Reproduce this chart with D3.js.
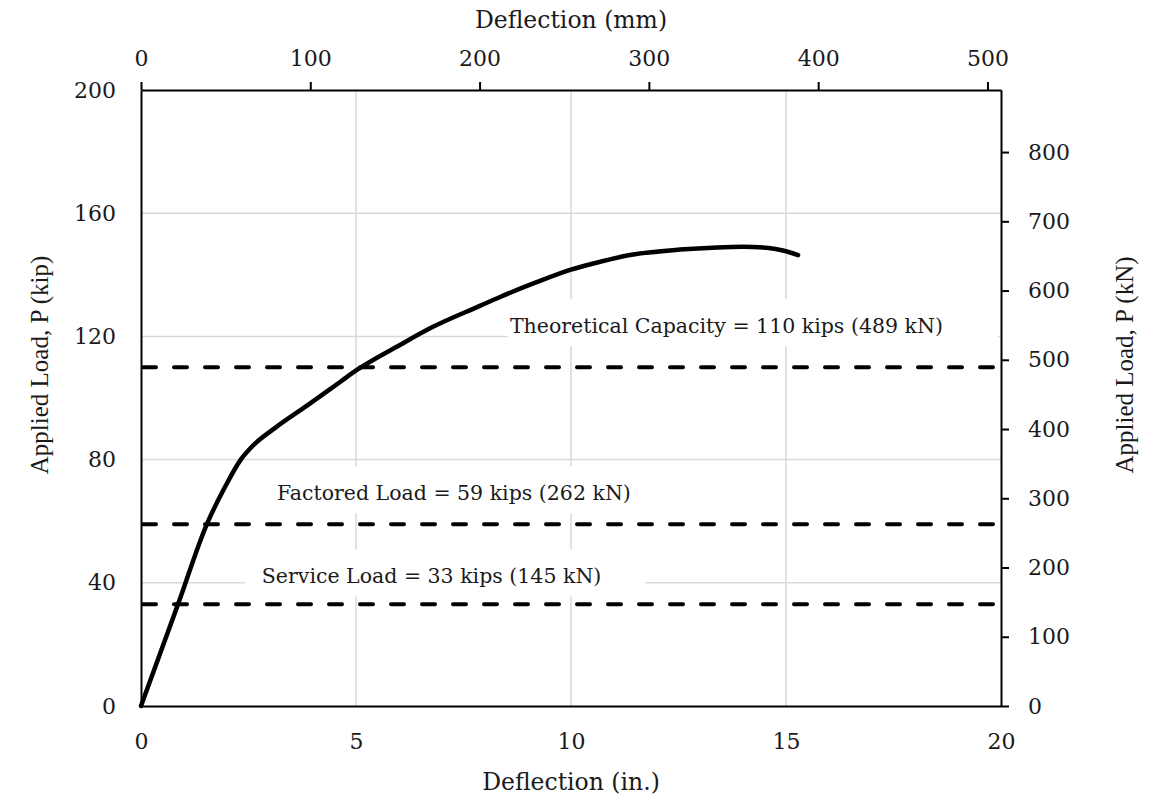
<!DOCTYPE html>
<html>
<head>
<meta charset="utf-8">
<script src="https://cdn.jsdelivr.net/npm/d3@7"></script>
<style>
  body { margin: 0; background: #fff; }
  svg { display: block; }
</style>
</head>
<body>
<script>
'use strict';

// Load-deflection curve
const deflIn = [0, 0.86, 1.53, 1.95, 2.32, 2.6, 3.12, 3.86, 4.63, 5.02, 6.02, 6.79, 7.88, 8.35, 9.2, 9.98, 10.7, 11.37, 12.53, 13.4, 14.0, 14.6, 14.93, 15.28];
const loadKip = [0, 33, 59, 71, 80, 84.5, 90.3, 97.5, 105.2, 109.1, 117.2, 123.1, 129.9, 132.8, 137.6, 141.6, 144.3, 146.4, 148.2, 148.9, 149.1, 148.7, 147.9, 146.4];

// Reference load levels
const refLoads = [33, 59, 110];
const refLabels = [
  "Service Load = 33 kips (145 kN)",
  "Factored Load = 59 kips (262 kN)",
  "Theoretical Capacity = 110 kips (489 kN)"
];

// Tick values
const inTicks = [0, 5, 10, 15, 20];
const mmTicks = [0, 100, 200, 300, 400, 500];
const kipTicks = [0, 40, 80, 120, 160, 200];
const kNTicks = [0, 100, 200, 300, 400, 500, 600, 700, 800];

// Canvas size
const W = 1158, H = 796;
const plot = {left: 141, right: 1001, top: 90, bottom: 706};
const serif = "'DejaVu Serif', serif";
const gridColor = "#d9d9d9";
const textColor = "#1a1a1a";

const svg = d3.select("body").append("svg")
  .attr("width", W)
  .attr("height", H);

// scales (inches/kip primary, mm/kN secondary)
const x = d3.scaleLinear().domain([0, 20]).range([plot.left, plot.right]);
const xMm = d3.scaleLinear().domain([0, 20 * 25.4]).range([plot.left, plot.right]);
const y = d3.scaleLinear().domain([0, 200]).range([plot.bottom, plot.top]);
const yKN = d3.scaleLinear().domain([0, 200 * 4.448222]).range([plot.bottom, plot.top]);

// gridlines
svg.append("g")
  .selectAll("line")
  .data(inTicks.filter(d => d > 0 && d < 20))
  .join("line")
  .attr("x1", d => x(d)).attr("x2", d => x(d))
  .attr("y1", plot.bottom).attr("y2", plot.top)
  .attr("stroke", gridColor)
  .attr("stroke-width", 1.5);
svg.append("g")
  .selectAll("line")
  .data(kipTicks.filter(d => d > 0 && d < 200))
  .join("line")
  .attr("x1", plot.left).attr("x2", plot.right)
  .attr("y1", d => y(d)).attr("y2", d => y(d))
  .attr("stroke", gridColor)
  .attr("stroke-width", 1.5);

// label layout: text start (in.), baseline offset from its line (px), white box (in.)
const labelStart = [2.81, 3.16, 8.58];
const labelShift = [-21, -24, -34];
const labelBox = [[2.42, 11.72], [2.81, 11.72], [8.53, 19.93]];

const labels = svg.append("g");
labels.selectAll("rect")
  .data(refLoads)
  .join("rect")
  .attr("x", (d, i) => x(labelBox[i][0]))
  .attr("width", (d, i) => x(labelBox[i][1]) - x(labelBox[i][0]))
  .attr("y", (d, i) => y(d) + labelShift[i] - 34)
  .attr("height", 47)
  .attr("fill", "#fff");
labels.selectAll("text")
  .data(refLoads)
  .join("text")
  .attr("x", (d, i) => x(labelStart[i]))
  .attr("y", (d, i) => y(d) + labelShift[i])
  .attr("font-family", serif)
  .attr("font-size", 20.5)
  .attr("fill", textColor)
  .text((d, i) => refLabels[i]);

// dashed reference lines
svg.append("g")
  .selectAll("line")
  .data(refLoads)
  .join("line")
  .attr("x1", plot.left + 2).attr("x2", plot.right)
  .attr("y1", d => y(d)).attr("y2", d => y(d))
  .attr("stroke", "#000")
  .attr("stroke-width", 4)
  .attr("stroke-dasharray", "13,18")
  .attr("stroke-linecap", "round");

// axes
function styleAxis(g, size) {
  g.attr("font-family", serif).attr("font-size", size);
  g.select(".domain").attr("stroke", "#000").attr("stroke-width", 2);
  g.selectAll(".tick line").attr("stroke", "#000").attr("stroke-width", 2);
  g.selectAll(".tick text").attr("fill", textColor);
}

svg.append("g")
  .attr("transform", `translate(0, ${plot.bottom})`)
  .call(d3.axisBottom(x).tickValues(inTicks).tickSize(0).tickPadding(27))
  .call(styleAxis, 22);

svg.append("g")
  .attr("transform", `translate(0, ${plot.top})`)
  .call(d3.axisTop(xMm).tickValues(mmTicks).tickSizeInner(8).tickSizeOuter(0).tickPadding(16))
  .call(styleAxis, 22);

svg.append("g")
  .attr("transform", `translate(${plot.left}, 0)`)
  .call(d3.axisLeft(y).tickValues(kipTicks).tickSize(0).tickPadding(25))
  .call(styleAxis, 22);

svg.append("g")
  .attr("transform", `translate(${plot.right}, 0)`)
  .call(d3.axisRight(yKN).tickValues(kNTicks).tickSizeInner(8).tickSizeOuter(0).tickPadding(19))
  .call(styleAxis, 22);

// the curve
const line = d3.line()
  .x((d, i) => x(deflIn[i]))
  .y(d => y(d))
  .curve(d3.curveMonotoneX);
svg.append("path")
  .datum(loadKip)
  .attr("d", line)
  .attr("fill", "none")
  .attr("stroke", "#000")
  .attr("stroke-width", 4.5)
  .attr("stroke-linejoin", "round")
  .attr("stroke-linecap", "round");

// axis titles
svg.append("text")
  .attr("x", (plot.left + plot.right) / 2)
  .attr("y", 28)
  .attr("text-anchor", "middle")
  .attr("font-family", serif)
  .attr("font-size", 23.5)
  .attr("fill", textColor)
  .text("Deflection (mm)");
svg.append("text")
  .attr("x", (plot.left + plot.right) / 2)
  .attr("y", 790)
  .attr("text-anchor", "middle")
  .attr("font-family", serif)
  .attr("font-size", 23.5)
  .attr("fill", textColor)
  .text("Deflection (in.)");
svg.append("text")
  .attr("transform", "translate(48, 365) rotate(-90)")
  .attr("text-anchor", "middle")
  .attr("font-family", "'Liberation Serif', serif")
  .attr("font-size", 25)
  .attr("fill", textColor)
  .text("Applied Load, P (kip)");
svg.append("text")
  .attr("transform", "translate(1133, 365) rotate(-90)")
  .attr("text-anchor", "middle")
  .attr("font-family", "'Liberation Serif', serif")
  .attr("font-size", 25)
  .attr("fill", textColor)
  .text("Applied Load, P (kN)");
</script>
</body>
</html>
